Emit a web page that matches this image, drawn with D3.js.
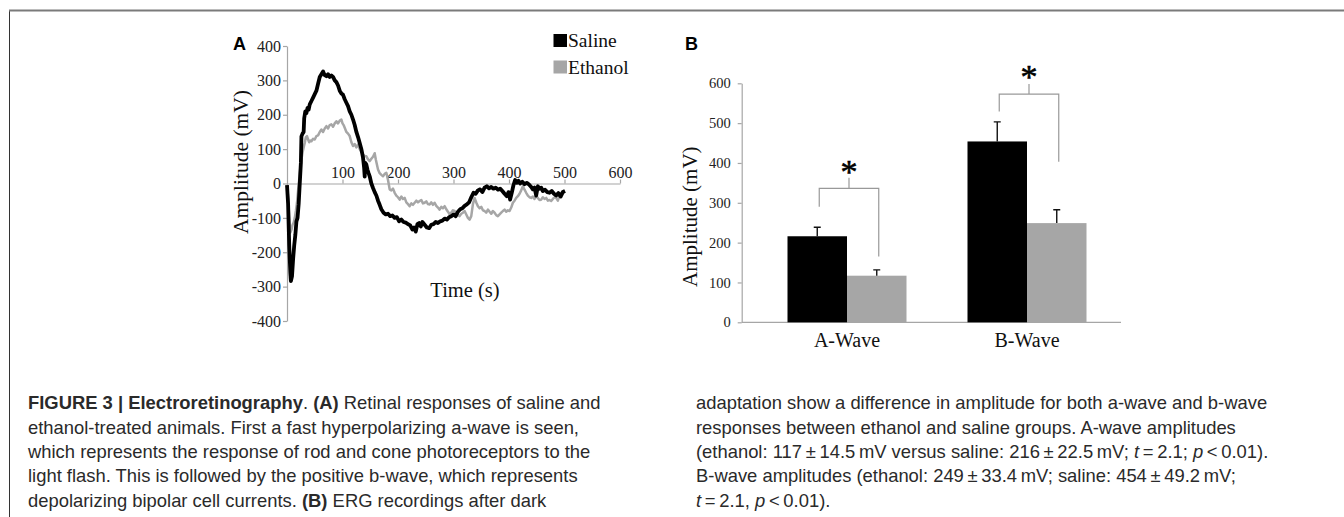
<!DOCTYPE html>
<html>
<head>
<meta charset="utf-8">
<script src="https://cdn.jsdelivr.net/npm/d3@7"></script>
<style>
  body { margin: 0; background: #fff; }
  svg { display: block; }
</style>
</head>
<body>
<div id="chart"></div>
<script>
// ---- panel A: ERG traces, [time (s), amplitude (mV)]
const salineTrace = [
  [0,-5],[2,-60],[4,-180],[6,-260],[7,-284],[9,-270],[11,-220],[13,-180],[15,-150],[17,-110],
  [19,-100],[21,-60],[23,0],[25,60],[26,137],[28,145],[30,150],[31,190],[33,210],[35,205],
  [37,220],[39,215],[41,230],[44,240],[47,250],[50,260],[53,270],[56,290],[59,310],[62,318],
  [65,326],[68,315],[71,312],[74,318],[77,310],[80,314],[83,310],[86,300],[89,295],[92,285],
  [95,270],[98,262],[101,258],[104,245],[107,235],[110,225],[113,210],[116,200],[119,186],[122,170],
  [125,150],[128,135],[131,118],[134,100],[137,75],[139,45],[140,20],[141,60],[143,55],[145,40],
  [147,30],[149,21],[152,0],[155,-13],[158,-25],[161,-35],[164,-50],[167,-62],[170,-75],[174,-85],
  [178,-90],[182,-88],[186,-95],[190,-93],[194,-100],[198,-98],[202,-110],[206,-105],[210,-112],[214,-114],
  [218,-118],[222,-122],[226,-134],[229,-128],[232,-140],[235,-118],[238,-115],[241,-125],[244,-112],[248,-120],
  [252,-128],[256,-130],[260,-120],[264,-118],[268,-112],[272,-115],[276,-110],[280,-108],[284,-102],[288,-105],
  [292,-98],[296,-95],[300,-90],[304,-95],[308,-82],[312,-75],[316,-72],[320,-65],[324,-61],[328,-55],
  [332,-40],[336,-27],[340,-30],[344,-20],[348,-17],[352,-25],[356,-12],[360,-8],[364,-14],[368,-10],
  [372,-15],[376,-12],[380,-18],[384,-15],[388,-22],[392,-30],[396,-37],[399,-25],[402,-47],[405,-27],
  [408,-5],[411,10],[414,2],[417,8],[420,0],[424,5],[428,-2],[432,2],[436,-3],[440,-10],
  [443,-17],[446,-12],[449,-35],[452,-8],[455,-15],[458,-12],[461,-22],[465,-18],[469,-25],[473,-27],
  [477,-22],[481,-30],[485,-35],[489,-28],[493,-38],[497,-25],[501,-22]
];
const ethanolTrace = [
  [0,-5],[2,-40],[4,-100],[6,-143],[8,-135],[10,-120],[12,-114],[14,-100],[16,-80],[18,-56],
  [20,-20],[22,12],[24,45],[26,70],[28,90],[30,105],[32,118],[34,135],[36,138],[38,128],
  [40,120],[42,125],[44,123],[47,130],[50,128],[53,138],[56,140],[59,150],[62,157],[65,150],
  [68,160],[71,167],[74,160],[77,170],[80,172],[83,165],[86,175],[89,181],[92,175],[95,183],
  [98,186],[100,175],[102,170],[104,162],[107,150],[110,145],[113,138],[116,120],[119,109],[122,115],
  [125,105],[128,113],[131,100],[134,92],[137,84],[140,80],[143,79],[146,70],[149,65],[152,72],
  [155,78],[158,88],[160,70],[162,55],[164,41],[167,30],[170,25],[173,21],[176,28],[179,31],
  [182,10],[185,-17],[188,-20],[191,-15],[194,-27],[197,-35],[200,-40],[203,-47],[206,-38],[209,-45],
  [212,-42],[215,-55],[218,-60],[221,-66],[224,-58],[227,-62],[230,-56],[233,-50],[236,-55],[239,-51],
  [242,-48],[245,-58],[248,-56],[251,-52],[254,-60],[257,-61],[260,-55],[263,-62],[266,-56],[269,-65],
  [272,-70],[275,-76],[278,-68],[281,-72],[284,-66],[287,-75],[290,-82],[293,-90],[296,-85],[299,-78],
  [302,-80],[305,-88],[308,-92],[311,-95],[314,-88],[317,-85],[320,-80],[323,-90],[326,-100],[329,-105],
  [332,-95],[335,-60],[338,-42],[341,-55],[344,-66],[347,-72],[350,-68],[353,-78],[356,-80],[359,-85],
  [362,-76],[365,-82],[368,-88],[371,-80],[374,-85],[377,-92],[380,-95],[383,-90],[386,-85],[389,-80],
  [392,-76],[395,-82],[398,-78],[401,-80],[404,-70],[407,-56],[410,-50],[413,-42],[416,-37],[419,-30],
  [422,-20],[425,-8],[428,-18],[431,-27],[434,-35],[437,-40],[440,-42],[443,-38],[446,-45],[449,-37],
  [452,-42],[455,-48],[458,-47],[461,-40],[464,-45],[467,-42],[470,-50],[473,-48],[476,-51],[479,-45],
  [482,-40],[485,-42],[488,-50],[491,-35],[494,-27],[497,-30]
];
const timeTicks = [100, 200, 300, 400, 500, 600];
const ampTicksA = [-400, -300, -200, -100, 0, 100, 200, 300, 400];

// ---- panel B: mean amplitude +/- SEM
const categories = ["A-Wave", "B-Wave"];
const groups = ["Saline", "Ethanol"];
const salineMean = [216, 454];
const salineSem = [22.5, 49.2];
const ethanolMean = [117, 249];
const ethanolSem = [14.5, 33.4];
const ampTicksB = [0, 100, 200, 300, 400, 500, 600];

// ---- caption
const captionLeft = [
  [["FIGURE 3 | Electroretinography", "b"], [". ", ""], ["(A)", "b"], [" Retinal responses of saline and", ""]],
  [["ethanol-treated animals. First a fast hyperpolarizing a-wave is seen,", ""]],
  [["which represents the response of rod and cone photoreceptors to the", ""]],
  [["light flash. This is followed by the positive b-wave, which represents", ""]],
  [["depolarizing bipolar cell currents. ", ""], ["(B)", "b"], [" ERG recordings after dark", ""]]
];
const captionRight = [
  [["adaptation show a difference in amplitude for both a-wave and b-wave", ""]],
  [["responses between ethanol and saline groups. A-wave amplitudes", ""]],
  [["(ethanol: 117\u2009\u00b1\u200914.5\u2009mV versus saline: 216\u2009\u00b1\u200922.5\u2009mV; ", ""], ["t", "i"], ["\u2009=\u20092.1; ", ""], ["p", "i"], ["\u2009<\u20090.01).", ""]],
  [["B-wave amplitudes (ethanol: 249\u2009\u00b1\u200933.4\u2009mV; saline: 454\u2009\u00b1\u200949.2\u2009mV;", ""]],
  [["t", "i"], ["\u2009=\u20092.1, ", ""], ["p", "i"], ["\u2009<\u20090.01).", ""]]
];

const serif = "'Liberation Serif', 'Times New Roman', serif";
const sans = "'Liberation Sans', Arial, sans-serif";
const axisGrey = "#a6a6a6";
const ethanolGrey = "#a6a6a6";

const width = 1344, height = 517;
const svg = d3.select("#chart").append("svg")
  .attr("width", width)
  .attr("height", height);

svg.append("rect").attr("width", width).attr("height", height).attr("fill", "#fff");

// figure frame (left and top edges)
svg.append("line").attr("x1", 9.5).attr("y1", 10).attr("x2", 9.5).attr("y2", height)
  .attr("stroke", "#333").attr("stroke-width", 1);
svg.append("line").attr("x1", 9).attr("y1", 10.5).attr("x2", width).attr("y2", 10.5)
  .attr("stroke", "#7a7a7a").attr("stroke-width", 2);

// plain hyphen for negatives, like the original
const plain = (d) => String(d);

function styleAxis(g, size) {
  g.select(".domain").attr("stroke", axisGrey).attr("stroke-width", 1.2);
  g.selectAll(".tick line").attr("stroke", axisGrey).attr("stroke-width", 1.2);
  g.selectAll(".tick text")
    .attr("fill", "#222")
    .style("font-family", serif)
    .style("font-size", size + "px");
}

// ================= Panel A =================
const xA = d3.scaleLinear().domain([0, 600]).range([287, 620]);
const yA = d3.scaleLinear().domain([-400, 400]).range([321, 46]);

const gA = svg.append("g");

gA.append("g")
  .attr("transform", `translate(${xA(0)},0)`)
  .call(d3.axisLeft(yA).tickValues(ampTicksA).tickFormat(plain).tickSize(4).tickSizeOuter(0).tickPadding(2))
  .call((g) => styleAxis(g, 16));

gA.append("g")
  .attr("transform", `translate(0,${yA(0)})`)
  .call(d3.axisTop(xA).tickValues(timeTicks).tickFormat(plain).tickSize(4).tickSizeOuter(0).tickPadding(2))
  .call((g) => styleAxis(g, 16));

const line = d3.line()
  .x((d) => xA(d[0]))
  .y((d) => yA(d[1]));

gA.append("path")
  .datum(ethanolTrace)
  .attr("d", line)
  .attr("fill", "none")
  .attr("stroke", ethanolGrey)
  .attr("stroke-width", 2.5)
  .attr("stroke-linejoin", "round");

gA.append("path")
  .datum(salineTrace)
  .attr("d", line)
  .attr("fill", "none")
  .attr("stroke", "#000")
  .attr("stroke-width", 3.8)
  .attr("stroke-linejoin", "round");

// legend
const legend = gA.append("g").attr("transform", "translate(553,34)");
groups.forEach((name, i) => {
  legend.append("rect")
    .attr("x", 0.5).attr("y", i * 26.5)
    .attr("width", 13.5).attr("height", 13)
    .attr("fill", i === 0 ? "#000" : ethanolGrey);
  legend.append("text")
    .attr("x", 15).attr("y", 13 + i * 26.5)
    .style("font-family", serif)
    .style("font-size", "19.5px")
    .attr("fill", "#111")
    .text(name);
});

gA.append("text")
  .attr("x", 233).attr("y", 49.5)
  .style("font-family", sans).style("font-weight", "bold").style("font-size", "18px")
  .text("A");

gA.append("text")
  .attr("transform", "translate(248,162) rotate(-90)")
  .attr("text-anchor", "middle")
  .style("font-family", serif).style("font-size", "21.5px").attr("fill", "#111")
  .text("Amplitude (mV)");

gA.append("text")
  .attr("x", 465).attr("y", 296.5)
  .attr("text-anchor", "middle")
  .style("font-family", serif).style("font-size", "20.5px").attr("fill", "#111")
  .text("Time (s)");

// ================= Panel B =================
const yB = d3.scaleLinear().domain([0, 600]).range([322.3, 83.3]);
const xB = d3.scaleBand().domain(categories).range([757, 1117]);
const xSub = d3.scaleBand().domain(groups).range([0, 119]);
const groupOffset = (xB.bandwidth() - xSub.range()[1]) / 2;

const gB = svg.append("g");

gB.append("g")
  .attr("transform", "translate(741.7,0)")
  .call(d3.axisLeft(yB).tickValues(ampTicksB).tickFormat(plain).tickSize(4).tickSizeOuter(0).tickPadding(7))
  .call((g) => styleAxis(g, 14.5));

gB.append("line")
  .attr("x1", 741.7).attr("x2", 1121)
  .attr("y1", yB(0)).attr("y2", yB(0))
  .attr("stroke", axisGrey).attr("stroke-width", 1.2);

const barData = [];
categories.forEach((c, i) => {
  barData.push({ cat: c, group: "Saline", mean: salineMean[i], sem: salineSem[i] });
  barData.push({ cat: c, group: "Ethanol", mean: ethanolMean[i], sem: ethanolSem[i] });
});
const barX = (d) => xB(d.cat) + groupOffset + xSub(d.group);
const barMid = (d) => barX(d) + xSub.bandwidth() / 2;

gB.selectAll(".bar")
  .data(barData)
  .enter()
  .append("rect")
  .attr("class", "bar")
  .attr("x", barX)
  .attr("y", (d) => yB(d.mean))
  .attr("width", xSub.bandwidth())
  .attr("height", (d) => yB(0) - yB(d.mean))
  .attr("fill", (d) => (d.group === "Saline" ? "#000" : ethanolGrey));

// upper error bars
gB.selectAll(".err")
  .data(barData)
  .enter()
  .append("path")
  .attr("class", "err")
  .attr("d", (d) => {
    const x = barMid(d), y0 = yB(d.mean), y1 = yB(d.mean + d.sem);
    return `M${x},${y0}V${y1}M${x - 3.5},${y1}H${x + 3.5}`;
  })
  .attr("fill", "none")
  .attr("stroke", "#111")
  .attr("stroke-width", 1.4);

// significance brackets, heights in mV
const sigBrackets = [
  { cat: "A-Wave", left: 290, right: 165, top: 336, stub: 363, star: 391 },
  { cat: "B-Wave", left: 529, right: 403, top: 573, stub: 598, star: 628 }
];
sigBrackets.forEach((b) => {
  const xl = barMid({ cat: b.cat, group: "Saline" }) + 2;
  const xr = barMid({ cat: b.cat, group: "Ethanol" }) + 2;
  const xm = (xl + xr) / 2;
  gB.append("path")
    .attr("d", `M${xl},${yB(b.left)}V${yB(b.top)}H${xr}V${yB(b.right)}M${xm},${yB(b.top)}V${yB(b.stub)}`)
    .attr("fill", "none")
    .attr("stroke", "#999")
    .attr("stroke-width", 1.2);
  gB.append("text")
    .attr("x", xm).attr("y", yB(b.star) + 16)
    .attr("text-anchor", "middle")
    .style("font-family", serif).style("font-size", "34px")
    .attr("stroke", "#000").attr("stroke-width", 0.6)
    .text("*");
});

gB.selectAll(".cat")
  .data(categories)
  .enter()
  .append("text")
  .attr("class", "cat")
  .attr("x", (d) => xB(d) + xB.bandwidth() / 2)
  .attr("y", 346.7)
  .attr("text-anchor", "middle")
  .style("font-family", serif).style("font-size", "20px").attr("fill", "#111")
  .text((d) => d);

gB.append("text")
  .attr("x", 685).attr("y", 49.5)
  .style("font-family", sans).style("font-weight", "bold").style("font-size", "18px")
  .text("B");

gB.append("text")
  .attr("transform", "translate(697,216.7) rotate(-90)")
  .attr("text-anchor", "middle")
  .style("font-family", serif).style("font-size", "21px").attr("fill", "#111")
  .text("Amplitude (mV)");

// ================= Caption =================
function drawCaption(lines, x) {
  const t = svg.append("g");
  lines.forEach((segs, i) => {
    const txt = t.append("text")
      .attr("x", x).attr("y", 409.3 + i * 24.35)
      .style("font-family", sans).style("font-size", "18.4px")
      .attr("fill", "#2a2a2a");
    segs.forEach(([s, st]) => {
      txt.append("tspan")
        .style("font-weight", st === "b" ? "bold" : "normal")
        .style("font-style", st === "i" ? "italic" : "normal")
        .text(s);
    });
  });
}
drawCaption(captionLeft, 28);
drawCaption(captionRight, 696);
</script>
</body>
</html>
